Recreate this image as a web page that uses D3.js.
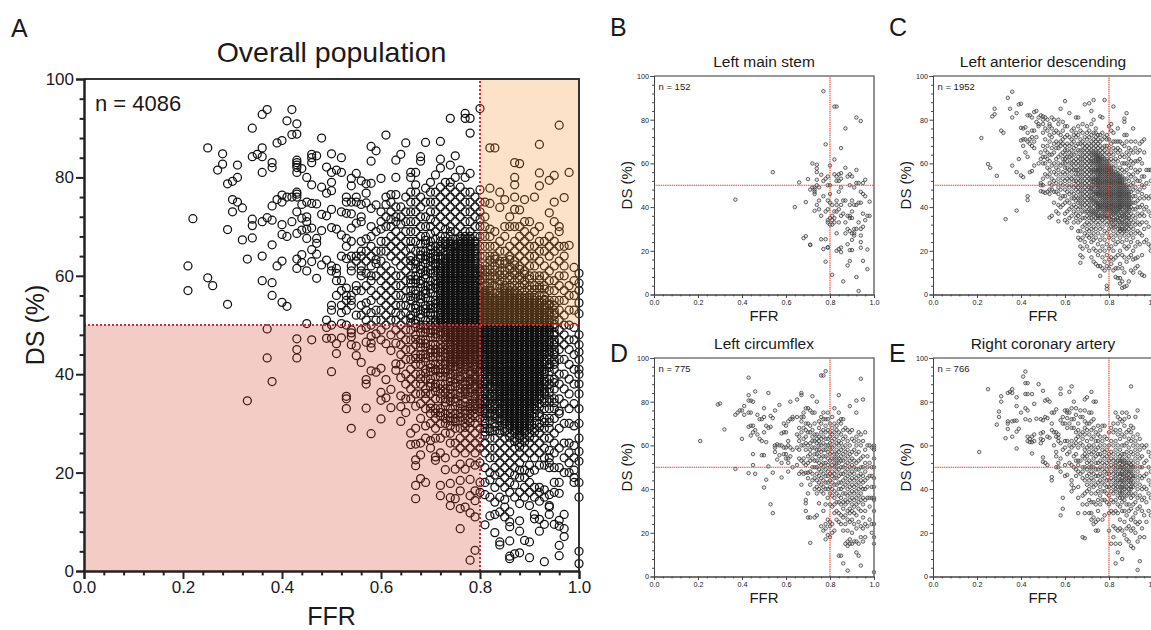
<!DOCTYPE html>
<html>
<head>
<meta charset="utf-8">
<script src="https://cdn.jsdelivr.net/npm/d3@7"></script>
<style>
html, body { margin: 0; padding: 0; background: #fff; }
svg { display: block; }
text { font-family: "Liberation Sans", Arial, sans-serif; fill: #1a1a1a; }
</style>
</head>
<body>
<svg width="1151" height="630"></svg>
<script>
var overallRows = [
[.21,[57,62]],[.22,[71.6]],[.25,[59.6,86]],[.26,[58]],[.27,[81.5]],[.28,[82.7,84.8]],
[.29,[54.2,69.4,78.7]],[.30,[73,75.5,79.2]],[.31,[75,80,82.5]],[.32,[67.3,73.8]],[.33,[34.6,63.4]],
[.34,[67.7,70.2,71.5,84.2,90]],[.35,[84.7]],[.36,[59,64,71,81,84.2,86,92.8]],[.37,[43.3,49.2,71.8,93.8]],
[.38,[38.5,56,58.6,66.3,71.3,74.2,82,83]],[.39,[62,75.5,87]],[.40,[54.6,63,68.4,70.4,75,76.4,87.5]],
[.41,[53.8,68,76,91.5]],[.42,[71,76,88.7,93.8]],
[.43,[43.3,45,47.2,61.5,63.4,68.6,73,76,76.6,77,81,82,82.5,83,83.5,88.8,90.9]],
[.44,[62.7,64.3,69.3,71.7,74.5,81.8]],[.45,[50.3,61,67.6,69.5,71,72,75,80]],
[.46,[47,62.9,65.3,69.7,74.7,78.5,83,84,84.7]],[.47,[59.5,64.4,66.6,67.6,74.6,84.4]],
[.48,[62.2,69.2,72.5,78,88]],[.49,[47.3,49.5,51,63.2,72.2,76.8,82.1]],
[.50,[40.5,47.3,50,53,54,61,62,69.8,73.5,77.3,79,81,84.8]],[.51,[44.2,46.2,56,59,60.5,61.5,69.5,81.5]],
[.52,[47.4,50.3,52.5,54,57,59,64,68.3,73,81,84]],[.53,[33,35,35.5,50,53,55,56,57.5,63.5,66,67.6,72.7,75,76]],
[.54,[29,46,47.6,48.4,49,54,55,56,61,62,64,67,69.7,72.6,75,78.3,79.8]],
[.55,[43.8,45.7,52,57,58,63,64,70.7,75,76,80.8]],
[.56,[42.4,49,52,54,57,60,61,62,64,65,67,71,72,74.5,79.3]],
[.57,[33.1,38,38.9,46.5,49.5,51,53,54.5,58,60.5,63,65,67.5,74.8,76.8,78.7]],
[.58,[27.9,40.7,45.4,46.3,47.7,50,52.5,55,57,59,60,62,64,66,68,70,73.7,78.8,83.3,86.3]],
[.59,[40.4,48.2,51,53,56,60,62.5,63.3,65,69,74.4,85.4]],
[.60,[30.9,34.7,36.3,41.2,47,49,51,53,55,57,59,61,63,65,67,69.5,71,73,79.8]],
[.61,[35.2,38.9,46.2,50,52,54,56,58,60,62,65,67,70,72,74.5,76,88.6]],
[.62,[33.2,36.9,44.8,48,51,53,55,57,59,61,64,66,68,70,71.5,73,75,76.5]],
[.63,[40.8,42.1,46.3,49,51,52.5,54,56,58,60,63,65,67,69,71,72,74,76.5,80,83.5]],
[.64,[30.4,33.4,35.6,39.3,42,44,46,48,50,52,54,56,58,60,62,64,66,68,70.5,72,74,84.7]],
[.65,[32.2,35,38,40,43,45,47,49,51,52.5,54,55.5,57,59,61,63,65,67,69,71,73,76,87]],
[.66,[25.7,28,35,37,39,41,43,45,47,49,50.5,52,53.5,55,57,58.5,60,62,64,65.5,67,69,71,73,75,77,80,81]],
[.67,[14.7,17.4,21.4,22.6,25.8,29,33.5,36,38,40,42,44,46,48,49.5,51,52.5,54,55.5,57,58.5,60,61.5,63,65,67,69,71,73,75,77,78.5,81]],
[.68,[18.8,23.6,26,31,34,36,38,40,42,44,45.5,47,48.5,50,51.5,53,54.5,56,57.5,59,60.5,62,63.5,65,66.5,68,70,72,74,76,83.3,84.2]],
[.69,[18,27,29.5,33,35,37,39,41,42.5,44,45.5,47,48.5,50,51,52.5,54,55.5,57,58,59.5,61,62.5,64,65,66.5,68,70,72,75,77.8,87.1]],
[.70,[25,26.5,30,32,34,36,37.5,39,40.5,42,43.5,45,46,47.5,49,50,51,52.5,54,55,56.5,58,59,60.5,62,63,64.5,66,67,68.5,70,71.5,73,75,77,79]],
[.71,[22.5,23.2,27,29,31,33,35,36.5,38,39.5,41,42,43.5,45,46,47.5,49,50,51,52,53.5,55,56,57.5,59,60,61,62.5,64,65,66,67.5,69,71,73,75,77,80.5]],
[.72,[15.3,17.4,24,27,30,31.5,33,35,37,38,39.5,41,42,43,44.5,46,47,48,49.5,50.5,51.5,52.5,53.5,54.5,55.5,56.5,57.5,58.5,59.5,60.5,61.5,62.5,64,65,66,67,68,70,72,74,76,78,81.9,83.7,87.3]],
[.73,[20.6,23,28,30,32,33.5,35,37,38,39.5,41,42,43.5,45,46,47,48,49,50.5,51.5,52.5,53.5,54.5,55.5,56.5,57.5,58.5,59.5,60.5,61.5,62.5,63.5,65,66,67,68,69.5,71,73,75,77,79]],
[.74,[13.3,14.9,17.8,26,28,29.5,30.5,32,33,34.5,36,37,38.5,40,41,42,43,44,45,46,47,48,49,50,51,52,53,54,55,56,57,58,59,60,61,62,63,64,65,66,67,68,69,70,72,74,76,78,79,82.5,92]],
[.75,[14.7,20.7,24,26,29,31,32,33.5,35,36,37.5,39,40,41,42.5,43.5,44.5,46,47,48,49,50,51,52,53,54,55,56,57,58,59,60,61,62,63,64,65,66,67.5,69,71,73,75,77,80,84.4]],
[.76,[8.6,12.7,16.3,18.4,21.7,25,27,29,30.5,32,33,34,35.5,37,38,39,40.5,42,43,44,45,46,47,48,49,50,51,52,53,54,55,56,57,58,59,60,61,62,63,64,65,66,67,68,70,72,74,76,78,81.5]],
[.77,[13,20.7,24,26,28,30,31,32,33.5,35,36,37,38.5,40,41,42,43,44,45,46,47,48,49,50,51,52,53,54,55,56,57,58,59,60,61,62,63,64,65,66,67,68,69,71,73,75,77,80,92,93]],
[.78,[2.2,11.8,15.3,18.6,22,25,27,29,31,32,33,34,35.5,37,38,39,40,41.5,43,44,45,46,47,48,49,50,51,52,53,54,55,56,57,58,59,60,61,62,63,64,65,66,67,68,69,71,73,75,77,80.8,89,92]],
[.79,[4.2,11,14.3,16.3,21.5,24,26,28,30,32,33,34,35,36,37,38,39,40,41,42,43,44,45,46,47,48,49,50,51,52,53,54,55,56,57,58,59,60,61,62,63,64,65,66,67,68,70,72,74,76]],
[.80,[16,18,22,25,27,29,31,33,34,35,36,37,38,39,40,41,42,43,44,45,46,47,48,49,50,51,52,53,54,55,56,57,58,59,60,61,62,64,66,68,70,71.5,73,75,77.5,94]],
[.81,[9.4,15.5,18,21,24,26,27.5,29,30,31,32,33,34,35,36,37,38,39,40,41,42,43,44,45,46,47,48,49,50,51,52,53,54,55,56,57,58,60,62,64,66,68,70,72,75]],
[.82,[11.2,15,18.5,20,23,25,27,29,30.5,32,33,34,35,36,37,38,39,40,41,42,43,44,45,46,47,48,49,50,51,52,53,54,55,56,57,58.5,60,62,64,66,68,69.5,74.7,77.8,86]],
[.83,[7.8,11.5,14,17,19.5,21,23,25,27,28.5,30,31,32,33,34,35,36,37,38,39,40,41,42,43,44,45,46,47,48,49,50,51,52,53,54,55,56.5,58,60,62,64,66,69,86]],
[.84,[5.3,5.9,12,15,18,20,22,24,26,28,29.5,31,32,33,34,35,36,37,38,39,40,41,42,43,44,45,46,47,48,49,50,51,52,53,54,55,56,57.5,59,61,63,65,67,73.9,77]],
[.85,[11,13,14.5,17,19,21,23,25,27,29,30,31,32,33,34,35,36,37,38,39,40,41,42,43,44,45,46,47,48,49,50,51,52,53,54,55,56,57,58,59,61,63,65,68,70,75.5]],
[.86,[2.5,3,6.1,9,10,12,16,18,20,22,24,26,28,29,30,31,32,33,34,35,36,37,38,39,40,41,42,43,44,45,46,47,48,49,50,51,52,53,54,55,56,57,58,60,62,64,66,70,72]],
[.87,[3.5,15,17.5,19.5,21,23,25,27,28,29,30,31,32,33,34,35,36,37,38,39,40,41,42,43,44,45,46,47,48,49,50,51,52,53,54,55,56,57,58,59,61,63,65,67,70,73.5,76,78.5,80,83]],
[.88,[3.7,8.1,10.2,13.7,16,19,20.5,22,24,26,27,28,29,30,31,32,33,34,35,36,37,38,39,40,41,42,43,44,45,46,47,48,49,50,51,52,53,54,55,56,57,58,60,62,64,66,68,70,73.4,82.8]],
[.89,[6.2,15,17,19,20.5,23,25,27,28,29,30,31,32,33,34,35,36,37,38,39,40,41,42,43,44,45,46,47,48,49,50,51,52,53,54,55,56,57,59,61,63,65,67,69,71,75.5]],
[.90,[2.7,5.9,13.3,16,18,20,21.5,24,26,28,29,30,31,32,33,34,35,36,37,38,39,40,41,42,43,44,45,46,47,48,49,50,51,52,53,54,55,56,58,60,62,64,66,68,71]],
[.91,[10.6,11.5,15,17,20.5,23,25,27,29,30,32,33,34,35,36,37,38,39,40,41,42,43,44,45,46,47,48,49,50,51,52,53,54,55,56,58,60,62,64,66,69,76]],
[.92,[8.1,10.5,14.2,16,17,21.5,24,26,28,30,32,34,35,36,37,38,39,40,41,42,43,44,45,46,47,48,49,50,51,52,53,54,55,56,58,60,63,65,67,70,78.3,80.9,86.7]],
[.93,[1.9,9.5,15,16.5,21.5,23,25,27,29,31,33,35,36,37,38,39,40,41,42,43,44,45,46,47,48,49,50,51,52,53,54,55,56,58,60,62,65,67]],
[.94,[11.5,13,13.3,15.5,21,22,23,24.5,27,29,31,33,35,37,38,39,40.5,42,43,44,45,46,47,48,49,50,51,52,53,54,55,57,59,61,64,66,68,72.8,79.4]],
[.95,[9.5,16,18,21,24,26,28,31,33,35,37,39,41,42,43,44,45,46,47,48,49.5,51,52,53,54,55,57,59,62,65,67,71,75,80.4]],
[.96,[3.1,5.2,9.1,10.3,15.8,18,21,25,29,32,32.5,35,38,40,43,45,47,49,51,53,55,58,60,63,66,69,70,90.6]],
[.97,[7,8.6,11.5,20,23,26,30,34,37,40,43,46,48,50,52,55,57,60,62,64,66,75.9]],
[.98,[20,22,24,26,30,33,36,39,42,45,47,50,53,56,58,66.2,81]],
[.99,[18,19,20.5,23,25.5,29.5,34,38,41,44,47,49.5,53,56,59,61.7]],
[1.00,[1.5,4,15,18,22.3,24.3,27,30,33,36,38,40,41,43,44.5,46,48,52.3,54.5,57,58.5,60.5]]
];

// second reading of the crowded part of panel A, where circles pile up
var overallCrowdedRows = [
[.66,[51.4,55.8,59.2,63.1]],[.67,[43.2,47.1,50.3,53.4,56.3,59.2,62.4]],[.68,[39.1,43.2,46.3,49.4,52.2,55.3,58.4,61.3,64.2]],
[.69,[36.1,40.2,43.3,46.2,49.2,53.3,56.4,60.2,63.3,67.2]],[.70,[33.1,38.2,41.3,44.4,48.4,52,53.3,57.3,61.2,63.6,65.3]],
[.71,[32.1,37.3,40.7,44.3,48.2,50.6,54.3,58.3,62,63.4]],
[.72,[32.2,36.1,40.3,43.6,45.2,48.6,50,51,52,53,54,55,56,57,58,59,60,61,62,63.4,65.4]],
[.73,[31,34.3,36.2,40.4,42.6,44.2,47.5,48.5,49.7,51,52,53,54,55,56,57,58,59,60,61,62,63,64.2,66.4]],
[.74,[31.2,35.3,37.6,39.3,41.5,42.5,43.5,44.5,45.5,46.5,47.5,48.5,49.5,50.5,51.5,52.5,53.5,54.5,55.5,56.5,57.5,58.5,59.5,60.5,61.5,62.5,63.5,64.5,65.5,66.5]],
[.75,[30.3,34.4,38.2,41.6,43,44,45.2,46.5,47.5,48.5,49.5,50.5,51.5,52.5,53.5,54.5,55.5,56.5,57.5,58.5,59.5,60.5,61.5,62.5,63.5,64.5,65.5,66.4]],
[.76,[31.3,36.2,39.5,41.4,42.6,43.5,44.5,45.5,46.5,47.5,48.5,49.5,50.5,51.5,52.5,53.5,54.5,55.5,56.5,57.5,58.5,59.5,60.5,61.5,62.5,63.5,64.5,65.5,66.5,67.5]],
[.77,[29.2,32.6,34.3,36.4,38,39.4,41.5,42.5,43.5,44.5,45.5,46.5,47.5,48.5,49.5,50.5,51.5,52.5,53.5,54.5,55.5,56.5,57.5,58.5,59.5,60.5,61.5,62.5,63.5,64.5,65.5,66.5,67.5]],
[.78,[30.2,33.4,36.3,38.5,40.5,42.4,43.5,44.5,45.5,46.5,47.5,48.5,49.5,50.5,51.5,52.5,53.5,54.5,55.5,56.5,57.5,58.5,59.5,60.5,61.5,62.5,63.5,64.5,65.5,66.5,67.5]],
[.79,[31.2,33.5,35.5,37.5,39.5,41.5,42.5,43.5,44.5,45.5,46.5,47.5,48.5,49.5,50.5,51.5,52.5,53.5,54.5,55.5,56.5,57.5,58.5,59.5,60.5,61.5,62.5,63.5,64.5,65.5,66.5]],
[.80,[32.4,34.5,36.5,38.5,40.5,42.5,44.5,45.5,46.5,47.5,48.5,49.5,50.5,51.5,52.5,53.5,54.5,55.5,56.5,57.5,59.2,61.4]],
[.81,[28.3,30.5,32.5,34.5,36.5,38.5,40.5,41.5,42.5,43.5,44.5,45.5,46.5,47.5,48.5,49.5,50.5,51.5,52.5,53.5,54.5,55.5,56.5,59.3,61.2]],
[.82,[28.4,31.5,33.5,35.5,37.5,39.5,40.5,41.5,42.5,43.5,44.5,45.5,46.5,47.5,48.5,49.5,50.5,51.5,52.5,53.5,54.5,55.5,56.5,57.5,59.4,61.3,63.2]],
[.83,[29.3,31.5,33.5,35.5,37.5,38.5,39.5,40.5,41.5,42.5,43.5,44.5,45.5,46.5,47.5,48.5,49.5,50.5,51.5,52.5,53.5,54.5,55.5,59.3,61.2,63.4]],
[.84,[28.6,30.5,32.5,34.5,35.5,36.5,37.5,38.5,39.5,40.5,41.5,42.5,43.5,44.5,45.5,46.5,47.5,48.5,49.5,50.5,51.5,52.5,53.5,54.5,55.5,56.5,58.3,60.2,62.4]],
[.85,[28.3,30.5,31.5,32.5,33.5,34.5,35.5,36.5,37.5,38.5,39.5,40.5,41.5,42.5,43.5,44.5,45.5,46.5,47.5,48.5,49.5,50.5,51.5,52.5,53.5,54.5,55.5,56.5,57.5,60.2,62.4]],
[.86,[27.2,29.5,30.5,31.5,32.5,33.5,34.5,35.5,36.5,37.5,38.5,39.5,40.5,41.5,42.5,43.5,44.5,45.5,46.5,47.5,48.5,49.5,50.5,51.5,52.5,53.5,54.5,55.5,56.5,59.2,61.3,63.3]],
[.87,[26.3,28.5,29.5,30.5,31.5,32.5,33.5,34.5,35.5,36.5,37.5,38.5,39.5,40.5,41.5,42.5,43.5,44.5,45.5,46.5,47.5,48.5,49.5,50.5,51.5,52.5,53.5,54.5,55.5,56.5,60.2,62.2]],
[.88,[25.2,27.5,28.5,29.5,30.5,31.5,32.5,33.5,34.5,35.5,36.5,37.5,38.5,39.5,40.5,41.5,42.5,43.5,44.5,45.5,46.5,47.5,48.5,49.5,50.5,51.5,52.5,53.5,54.5,55.5,59.2,61.3]],
[.89,[26.2,28.5,29.5,30.5,31.5,32.5,33.5,34.5,35.5,36.5,37.5,38.5,39.5,40.5,41.5,42.5,43.5,44.5,45.5,46.5,47.5,48.5,49.5,50.5,51.5,52.5,53.5,54.5,55.5,58.2,60.3]],
[.90,[27.2,29.5,30.5,31.5,32.5,33.5,34.5,35.5,36.5,37.5,38.5,39.5,40.5,41.5,42.5,43.5,44.5,45.5,46.5,47.5,48.5,49.5,50.5,51.5,52.5,53.5,54.5,55.5,57.2,59.3]],
[.91,[28.2,31.2,33.5,34.5,35.5,36.5,37.5,38.5,39.5,40.5,41.5,42.5,43.5,44.5,45.5,46.5,47.5,48.5,49.5,50.5,51.5,52.5,53.5,54.5,55.5,57.2]],
[.92,[29.2,31.4,33.3,35.5,36.5,37.5,38.5,39.5,40.5,41.5,42.5,43.5,44.5,45.5,46.5,47.5,48.5,49.5,50.5,51.5,52.5,53.5,54.5,57.3,59.2]],
[.93,[30.2,34.2,36.4,38.5,40.5,42.5,44.5,45.5,46.5,47.5,48.5,49.5,50.5,51.5,52.5,53.5,55.2,57.3]],
[.94,[30.2,34.3,36.3,41.4,44.5,46.5,48.5,49.5,50.5,52.5,54.3]],
[.95,[34.2,38.3,42.5,44.5,46.5,48.5,50.2,52.4]]
];

var leftMainRows = [
[.37,[43.4]],[.54,[56]],[.64,[40]],[.66,[51.3]],[.68,[25.8]],[.69,[26.7,42.3]],[.70,[52.8]],
[.71,[22.7,22.8,48]],[.72,[49,60]],[.73,[38.3,46,47,48,49]],[.74,[41,50,52.5,56,57.7,59.4]],
[.75,[39,43,49]],[.76,[25.3,36,54.8]],[.77,[20.8,45,52,93]],[.78,[15,25.3,38,53,68.7]],
[.79,[21.5,21.6,33,34,39,43,50,54]],[.80,[32,35,42,46,50,59]],[.81,[9,32,34,36,41]],
[.82,[33,35,38,61.8,55,86]],[.83,[20,28,38,41,43,52,54,86]],[.84,[20.8,33,39,47,52,55]],
[.85,[19.4,21.5,36,41,49,53,55.5,67]],[.86,[6,37,43]],[.87,[28,33,43,58,76]],
[.88,[13.3,23,30,36,54]],[.89,[15.3,20.3,29,35,36,41,50,55]],[.90,[20.3,25,28,35,38,43,54]],
[.91,[27,28,30,41,49]],[.92,[8,30,41,51,57,81]],[.93,[1.6,33,42,51]],
[.94,[21.4,24,27,30,42,47,79.4]],[.95,[15.4,31,37,46,51]],[.96,[34,45,52.5]],[.97,[11.6,20.6,36]],[.98,[36,42.5]]
];

var leftAnteriorRows = [
[.22,[71.6]],[.25,[59.7]],[.26,[58]],[.27,[81.5]],[.28,[82.5,85]],[.29,[54.3]],[.31,[75]],[.32,[74]],
[.33,[34.5]],[.34,[90]],[.35,[85]],[.36,[59,81,92.8]],[.38,[38.4,56,83]],[.39,[62,87]],
[.40,[54.5,70.5,76.3,87.3]],[.41,[53.7,68,71,76]],[.42,[65,71,76.5]],[.43,[43.2,45,63,70,74,82]],
[.44,[56,69,71,82]],[.45,[56.5,68,72,75,81]],[.46,[59,67,70,75,83.5]],[.47,[72,79,84]],
[.48,[60,77,78,81]],[.49,[47.3,50,51,62,65,82]],[.50,[47,50,53,60,63,68,74,78,80,81.5]],
[.51,[46.5,55,60,63,66,71,76,81]],[.52,[47,54,58,62,65,68,75,80]],[.53,[35.2,46,48,51,55,57,61,64,70,73,77,78]],
[.54,[36,48,50,53,59,64,67,72,76,81]],[.55,[42,47,52,56,60,65,69,74,80]],[.56,[38,47,51,55,58,62,67,70,75]],
[.57,[33.5,37,41,46,49,53,57,60,63,67,69,74,78,80]],[.58,[40,44,48,51,55,59,64,68,70,73,85]],
[.59,[41,45,50,53,56,60,62,65,69,71,75,79]],[.60,[34,37,42,45,48,52,55,58,60,62,64,66,68,72,77,88.5]],
[.61,[33,38,43,47,50,53,56,58,61,63,66,69,73,77]],[.62,[35,39,42,46,49,52,54,57,60,63,65,68,72,83]],
[.63,[30.5,36,40,44,47,50,53,56,58,60,62,64,66,69,71,75]],[.64,[33,38,41,44,46,49,52,54,57,59,61,64,67,70,73,76]],
[.65,[35,37,40,43,45,48,50,52,55,57,60,62,65,68,72,74,81]],[.66,[26,29,33,36,39,42,44,47,49,51,53,55,57,59,61,63,66,69,73,77,81]],
[.67,[14.5,18,22,25,29,34,37,40,42,44,46,48,50,52,54,56,58,60,62,64,66,69,71,75]],
[.68,[17,21,26,31,35,38,40,42,44,46,48,50,52,54,56,58,60,62,64,66,68,70,74,78]],
[.69,[24,28,32,35,38,41,43,45,47,49,51,53,55,57,59,61,63,65,67,69,72,87]],
[.70,[22,27,30,33,36,38,40,42,44,46,48,50,52,54,56,58,60,62,64,66,68,71,74,77]],
[.71,[20,26,29,32,35,37,39,41,43,45,47,49,51,53,55,57,59,61,63,65,67,69,72,75,87.5]],
[.72,[17,24,27,30,33,35,37,39,41,43,45,47,48.5,50,52,54,56,58,60,62,64,66,68,70,73,78,84]],
[.73,[15,21,25,28,31,34,36,38,40,42,44,46,48,50,51.5,53,55,57,59,61,63,65,67,69,71,74,80,89]],
[.74,[14,20,26,30,33,35,37,39,41,43,45,47,49,51,52.5,54,56,58,60,62,64,66,68,70,72,74,76]],
[.75,[13,18,23,28,32,35,37,39,41,43,45,47,49,51,53,55,57,59,61,63,65,67,69,71,73]],
[.76,[8.5,13,20,25,30,33,36,38,40,42,44,46,48,50,52,54,56,58,60,62,64,66,68,70,73,81.5]],
[.77,[12,17,22,27,31,34,37,39,41,43,45,47,49,51,53,55,57,59,61,63,65,67,71,74,81]],
[.78,[11,15,20,25,29,33,36,38,40,42,44,46,48,50,52,54,56,58,60,62,64,66,68,72,89]],
[.79,[2.5,4,13,18,23,28,32,35,38,40,42,44,46,48,50,52,54,56,58,60,62,65,68,71,73]],
[.80,[12,16,21,26,30,33,36,39,41,43,45,47,49,51,53,55,57,59,61,64,67,71,77]],
[.81,[14,17,22,27,31,34,37,39,41,43,45,47,49,51,53,55,57,59,62,65,69,75,78]],
[.82,[11,16,20,25,29,32,35,38,40,42,44,46,48,50,52,54,56,58,61,64,67,70,74,86]],
[.83,[8,12,17,23,27,31,34,37,40,42,44,46,48,50,52,54,56,59,62,66,70]],
[.84,[7.5,12,18,24,28,32,35,38,40,43,45,47,49,51,53,55,57,61,65,67,70,76]],
[.85,[5,7.5,14,20,26,30,33,36,39,41,43,45,47,49,51,53,55,58,63,66,70]],
[.86,[3,6,12,18,24,28,31,34,37,40,42,44,46,48,50,52,54,57,60,64,69]],
[.87,[3.5,10,17,22,27,30,33,36,38,41,43,45,47,49,51,53,56,60,63,68,73,79,80.5]],
[.88,[4,15,21,25,29,32,35,38,40,42,44,46,48,50,53,57,60,65,70,73,83]],
[.89,[6,17,22,27,30,33,36,39,41,43,45,47,49,52,55,59,62,64,67]],
[.90,[11,18,24,28,31,34,37,40,42,44,47,50,54,58,61,66,70]],
[.91,[10,16,20,26,30,33,36,39,42,45,48,51,55,60,65,76]],
[.92,[12,16.5,22,28,32,35,39,42,45,49,53,57,61,67,70]],
[.93,[13,17,24,29,33,37,40,43,47,52,56,61,65]],
[.94,[10,23,28,32,36,40,44,48,52,57,62,66,69]],
[.95,[9,18,27,33,37,41,46,50,54,60,70]],
[.96,[8.5,24,30,36,39,44,49,54,65,71]],[.97,[25,33,40,45,51,57]],[.98,[23,31,38,44,57]],[.99,[20,22,36,45,52,57]],
// crowded core of the panel
[.72,[38,44,49,53,57,61,65]],[.73,[37,43,47,52,56,60,64]],[.74,[38,42,46,50,53,57,61,63,65]],
[.75,[36,40,42,46,48,50,52,54,56,58,60,62,64]],[.76,[35,39,41,45,47,49,51,53,55,57,59,61,63]],
[.77,[36,40,42,44,46,48,50,52,54,56,58,60,62]],[.78,[35,37,39,41,43,45,47,49,51,53,55,57,59]],
[.79,[36,39,41,43,45,47,49,51,53,55,57,59,61]],[.80,[35,38,40,42,44,46,48,50,52,54,56,58]],
[.81,[33,36,38,40,42,44,46,48,50,52,54,56,58]],[.82,[31,34,37,39,41,43,45,47,49,51,53,55]],
[.83,[33,36,38,39,41,43,45,47,49,51,53,55]],[.84,[30,34,37,39,41,42,44,46,48,50,52,54]],
[.85,[29,32,35,38,40,42,44,46,48,50,52,54]],[.86,[30,33,36,39,41,43,45,47,49,51,53]],
[.87,[29,32,35,37,40,42,44,46,48,50]],[.88,[31,34,37,39,41,43,45,47,49]],[.89,[32,35,38,40,42,44,46]]
];

var leftCircumflexRows = [
[.21,[62]],[.29,[78.7]],[.30,[79.2]],[.32,[67.3]],[.37,[49.2,74]],[.38,[75]],[.39,[76]],[.40,[63,76]],
[.41,[74,78]],[.43,[47.3,68.5,75,80.5,83,91]],[.44,[64.5,69,75,80.5]],[.45,[51,56,66,69,80]],
[.46,[47,67,84.7]],[.47,[65,74]],[.48,[63,72]],[.49,[55.5,62,72]],[.50,[40.7,55.5,66,73,77]],
[.51,[44.3,61.5,69]],[.52,[50.4,68,84]],[.53,[33,68.5,73.5]],[.54,[29,47.5,72.5]],[.55,[57,59,60,76]],
[.56,[53.5,60.5]],[.57,[55.5,60,78.5]],[.58,[45.3,52,60,65.5]],[.59,[56,59,66,70]],[.60,[54,56,59,66,69]],
[.61,[48,52,54,60,62,71]],[.62,[55,59,72,80]],[.63,[50,58,72,73]],[.65,[51,59,65,73,81]],
[.66,[47,54,58,62,64,68]],[.67,[42,48,53,60,66,71,73,83,84]],[.68,[47,52,54,60,63,68,73,75]],
[.69,[33.5,35,30,47.5,51,58,61,64,67,70,77]],[.70,[27,38,45,47.5,52,55,60,66,70,77]],
[.71,[15.4,27,42,48,53,56,58,61,66,69,76]],[.72,[44,47,50,54,59,62,64,67,75,82.5]],
[.73,[27,40,45,50,53,56,59,62,65,70,75]],[.74,[28,38,41,44,47,50,53,56,58,61,63,65,80]],
[.75,[33.5,40,43,46,49,52,55,58,60,62,64,68,71]],[.76,[23,39,42,45,48,51,54,57,60,63,66,70,73,92]],
[.77,[21,30,38,41,44,47,50,52,55,58,61,64,67,72,75,92]],[.78,[17,22,24,33,40,43,46,49,52,55,58,60,63,66,69,72,94]],
[.79,[19,26,36,40,43,46,48,51,54,57,60,63,67,72,75]],[.80,[18,23,25,33,38,41,44,47,50,53,56,59,61,64,66,70]],
[.81,[20,24,32,37,40,43,46,48,51,54,57,59,62,65,68,73]],[.82,[21,29,33,36,39,42,45,47,50,52,54,56,60,63,66,70,77]],
[.83,[26,30,34,38,42,45,48,50,52,54,56,58,61,64,67,69]],[.84,[9.5,25,29,34,37,40,43,46,49,52,54,57,60,62,66,71,75,83]],
[.85,[9.5,24,28,33,36,40,43,47,50,53,55,58,61,65,70,72]],[.86,[6,21,27,31,34,38,41,44,47,50,53,56,59,63,67,72]],
[.87,[15,24,28,33,35,38,42,45,48,51,54,57,60,64,68]],[.88,[2.7,14,16,21,26,30,34,37,40,43,46,49,52,55,58,62,67]],
[.89,[15,17,25,29,31,35,38,41,44,47,50,53,56,60,66,78]],[.90,[15,20,26,30,33,36,39,42,45,48,51,54,57,63,67]],
[.91,[16,24,29,32,35,38,41,44,47,50,53,58,62]],[.92,[11,16,22,28,33,36,39,42,45,49,52,56,60,64,75,80.5]],
[.93,[9.5,15,25,31,34,37,40,43,46,49,53,57,62,66]],[.94,[5,18,23,30,35,38,41,44,47,50,54,60,65,90.5]],
[.95,[16,22,27,33,36,40,43,46,50,55,62,81]],[.96,[18,24,30,35,40,44,48,52,58,66]],
[.97,[23,36,41,45,50,55,60]],[.98,[26,32,36,46,52,60]],[.99,[20,24,36,41,46,50,59]],[1.00,[2,15,18,24,30,35,36,41,45,50,54,58,59,60]]
];

var rightCoronaryRows = [
[.21,[57]],[.25,[85.7]],[.29,[69.5]],[.30,[73,75.5]],[.31,[80,82.5]],[.33,[63.3]],[.34,[67.5,70,71,84]],
[.35,[84.5]],[.36,[64,71,84,85.7]],[.37,[71.3]],[.38,[58.6,66.3,71.3,78,82]],[.39,[67.6]],[.40,[75]],
[.41,[91.5]],[.42,[72,77,83.5,88.5,93.8]],[.43,[62,64,76,83.5,88.5]],[.44,[61.5,63,71.5]],
[.45,[56.3,61.5,64,83.5]],[.46,[62,65,79]],[.47,[72.2]],[.48,[88]],[.49,[61,63,65.5,72]],
[.50,[52.5,54.5,62.5,66,71.5,85]],[.51,[52,73,80.5]],[.52,[51,64,72.5,81]],[.53,[63.5,80]],
[.54,[44,45.5,67,70,75]],[.55,[60,66,75]],[.56,[50,55,57,64,66,76.5]],[.57,[50,52,62,63.5,65]],
[.58,[28,48,54,61,71.5,83.5,86]],[.59,[31,36,58,70,73]],[.60,[46,51,59,62,70,76]],
[.61,[46.5,56,62,68,72.5,75,76]],[.62,[52,57,60,70,75,84.5]],[.63,[39,42,44,51,59,62,68,72,77,87]],
[.64,[40.5,50,55,60,68,72,80]],[.65,[46,49,53,56,61,63,66,74,77]],[.66,[29,36,41,48,51,53,59,64,67,70]],
[.67,[47,53,61,65,73,76]],[.68,[18,33,37,45,48,50,55,60,63,66,73]],[.69,[17.5,29,38,44,50,54,56,58,65,68,71,76,81]],
[.70,[33,39,42,46,49,52,55,59,62,67,70,82]],[.71,[29,35,40,44,47,50,53,57,60,65,70,75]],
[.72,[26,29,34,38,42,45,48,50,52,56,59,63,67,71,75,84.5]],[.73,[24,27,34,41,44,47,50,54,57,60,64,68,72,80]],
[.74,[21,25,33,38,42,46,49,52,55,58,62,66,80]],[.75,[21,26,30,35,39,43,46,49,52,56,59,62,65,69]],
[.76,[33,37,41,44,47,50,53,56,60,64,67]],[.77,[26,35,39,43,46,49,52,55,58,62,69]],
[.78,[28,35,39,42,45,48,51,54,57,60,64,69]],[.79,[34,38,41,44,47,49,52,55,58,63]],
[.80,[21,29,33,37,41,44,47,50,53,56,60,66]],[.81,[15,30,35,39,42,45,48,51,54,57,62,68]],
[.82,[18,23,29,34,38,41,44,47,50,53,56,60,66,70]],[.83,[6,15,22,30,35,39,42,45,48,51,54,58,62,67,75]],
[.84,[11,21,29,33,37,41,44,47,50,53,56,60,65,70,73]],[.85,[15,22,26,32,36,39,43,46,49,52,55,58,63,67,72]],
[.86,[8,21,30,34,38,41,44,47,50,53,56,60,65,71,75]],[.87,[19,25,30,35,40,43,46,49,52,56,60,64,69,72]],
[.88,[17,22,28,33,37,41,45,48,51,54,57,61,66,75]],[.89,[16,23,30,33,38,42,45,48,52,55,59,63,67,73]],
[.90,[14,21,26,31,36,40,43,46,50,53,57,62,66,69,87]],[.91,[13,22,27,33,37,41,45,48,52,56,60,64,68]],
[.92,[20,25,29,34,38,42,46,50,54,58,62,73]],[.93,[3,16,24,31,36,40,44,48,52,56,60,65,76]],
[.94,[7,18,25,32,37,42,46,50,54,58,63]],[.95,[22,30,35,40,45,50,55,60]],[.96,[18,28,36,41,46,52,59]],
[.97,[25,34,40,47,53,60]],[.98,[30,38,44,50,57]],[.99,[28,36,42,48,55]],
// crowded core of the panel
[.83,[40,43,46,49,52]],[.85,[38,41,44,47,50,53]],[.86,[36,39,42,45,48,51,54]],[.87,[37,41,44,47,50,53]],
[.88,[39,43,46,49,52]],[.89,[40,44,47,50]],[.90,[38,41,44,48,51]],[.91,[43,46,50]]
];

var xTicks = ["0.0", "0.2", "0.4", "0.6", "0.8", "1.0"];
var yTicks = ["0", "20", "40", "60", "80", "100"];

var svg = d3.select("svg");

function flatten(rows) {
    var points = [];
    rows.forEach(function(row) {
        row[1].forEach(function(ds) {
            points.push({ ffr: row[0], ds: ds });
        });
    });
    return points;
}

function drawPanel(c) {
    var g = svg.append("g").attr("transform", "translate(" + c.left + "," + c.top + ")");
    var x = d3.scaleLinear().domain([0, 1]).range([0, c.w]);
    var y = d3.scaleLinear().domain([0, 100]).range([c.h, 0]);

    var plot = g.append("g").style("filter", "blur(" + c.blur + "px)");

    plot.append("g").selectAll("circle")
        .data(flatten(c.rows))
        .enter()
        .append("circle")
        .attr("cx", function(d) { return x(d.ffr); })
        .attr("cy", function(d) { return y(d.ds); })
        .attr("r", c.r)
        .attr("fill", c.big ? "none" : "rgba(120,120,120,0.2)")
        .attr("stroke", c.big ? "#111" : "#3a3a3a")
        .attr("stroke-width", c.sw);

    if (c.big) {
        // tinted quadrants sit over the circles, as in the figure
        plot.append("rect")
            .attr("x", x(0.8)).attr("y", y(100))
            .attr("width", x(1) - x(0.8)).attr("height", y(50) - y(100))
            .attr("fill", "rgb(238,140,40)").attr("opacity", 0.25);
        plot.append("rect")
            .attr("x", x(0)).attr("y", y(50))
            .attr("width", x(0.8) - x(0)).attr("height", y(0) - y(50))
            .attr("fill", "rgb(205,50,25)").attr("opacity", 0.25);
    }

    var refStyle = c.big
        ? { stroke: "#e0242c", width: 2, dash: "2,2" }
        : { stroke: "#e8452e", width: 1.1, dash: "1.5,0.7" };
    plot.append("line")
        .attr("x1", x(0)).attr("x2", x(1)).attr("y1", y(50)).attr("y2", y(50))
        .attr("stroke", refStyle.stroke).attr("stroke-width", refStyle.width).attr("stroke-dasharray", refStyle.dash);
    plot.append("line")
        .attr("x1", x(0.8)).attr("x2", x(0.8)).attr("y1", y(0)).attr("y2", y(100))
        .attr("stroke", refStyle.stroke).attr("stroke-width", refStyle.width).attr("stroke-dasharray", refStyle.dash);

    // frame
    plot.append("path")
        .attr("d", "M" + x(0) + "," + y(100) + "H" + x(1) + "V" + y(0))
        .attr("fill", "none")
        .attr("stroke", c.big ? "#333" : "#777")
        .attr("stroke-width", c.big ? 2 : 1.6);

    var xMinor = d3.range(0, 25).map(function(i) { return i * 0.04; }).filter(function(v) { return Math.round(v * 100) % 20 !== 0; });
    var yMinor = xMinor.map(function(v) { return v * 100; });

    var axisX = g.append("g").attr("transform", "translate(0," + c.h + ")")
        .call(d3.axisBottom(x).tickValues(xTicks.map(Number)).tickFormat(function(d, i) { return xTicks[i]; }).tickSizeOuter(0).tickSize(c.tick).tickPadding(c.pad));
    var axisY = g.append("g")
        .call(d3.axisLeft(y).tickValues(yTicks.map(Number)).tickFormat(function(d, i) { return yTicks[i]; }).tickSizeOuter(0).tickSize(c.tick).tickPadding(c.pad));
    g.append("g").attr("transform", "translate(0," + c.h + ")")
        .call(d3.axisBottom(x).tickValues(xMinor).tickFormat("").tickSize(c.tick * 0.55).tickSizeOuter(0));
    g.append("g")
        .call(d3.axisLeft(y).tickValues(yMinor).tickFormat("").tickSize(c.tick * 0.55).tickSizeOuter(0));

    g.selectAll(".domain, .tick line")
        .attr("stroke", c.big ? "#222" : "#444")
        .attr("stroke-width", c.big ? 2 : 1);
    axisX.selectAll("text").style("font-size", c.tickFont + "px");
    axisY.selectAll("text").style("font-size", c.tickFont + "px");

    g.append("text")
        .attr("x", c.nx).attr("y", c.ny)
        .style("font-size", c.nFont + "px")
        .text(c.n);
    g.append("text")
        .attr("x", c.w / 2).attr("y", c.titleY)
        .attr("text-anchor", "middle")
        .style("font-size", c.titleFont + "px")
        .text(c.title);
    g.append("text")
        .attr("x", c.w / 2).attr("y", c.h + c.xLabelY)
        .attr("text-anchor", "middle")
        .style("font-size", c.labelFont + "px")
        .text("FFR");
    g.append("text")
        .attr("transform", "translate(" + c.yLabelX + "," + (c.h / 2) + ") rotate(-90)")
        .attr("text-anchor", "middle")
        .style("font-size", c.labelFont + "px")
        .text("DS (%)");
    svg.append("text")
        .attr("x", c.letterX).attr("y", c.letterY)
        .style("font-size", c.letterFont + "px")
        .text(c.letter);
}

drawPanel({ big: true, rows: overallRows.concat(overallCrowdedRows), left: 84, top: 79, w: 495, h: 492, r: 4, sw: 1.25, blur: 0.4,
    tick: 8, pad: 2, tickFont: 17, nx: 11, ny: 32, nFont: 22, n: "n = 4086",
    title: "Overall population", titleY: -17, titleFont: 28.5, xLabelY: 53.5, labelFont: 25, yLabelX: -40,
    letter: "A", letterX: 11, letterY: 37, letterFont: 25 });

var small = { big: false, w: 220, h: 218.5, r: 1.75, sw: 0.75, blur: 0.45,
    tick: 3.5, pad: 1.5, tickFont: 7.2, nx: 4.5, ny: 14, nFont: 9.5,
    titleY: -9, titleFont: 15.5, xLabelY: 26, labelFont: 15, yLabelX: -22, letterFont: 25 };

drawPanel(Object.assign({}, small, { rows: leftMainRows, left: 654, top: 76, n: "n = 152", title: "Left main stem", letter: "B", letterX: 610, letterY: 36 }));
drawPanel(Object.assign({}, small, { rows: leftAnteriorRows, left: 933, top: 76, n: "n = 1952", title: "Left anterior descending", letter: "C", letterX: 889, letterY: 36 }));
drawPanel(Object.assign({}, small, { rows: leftCircumflexRows, left: 654, top: 358, n: "n = 775", title: "Left circumflex", letter: "D", letterX: 610, letterY: 362 }));
drawPanel(Object.assign({}, small, { rows: rightCoronaryRows, left: 933, top: 358, n: "n = 766", title: "Right coronary artery", letter: "E", letterX: 889, letterY: 362 }));
</script>
</body>
</html>
